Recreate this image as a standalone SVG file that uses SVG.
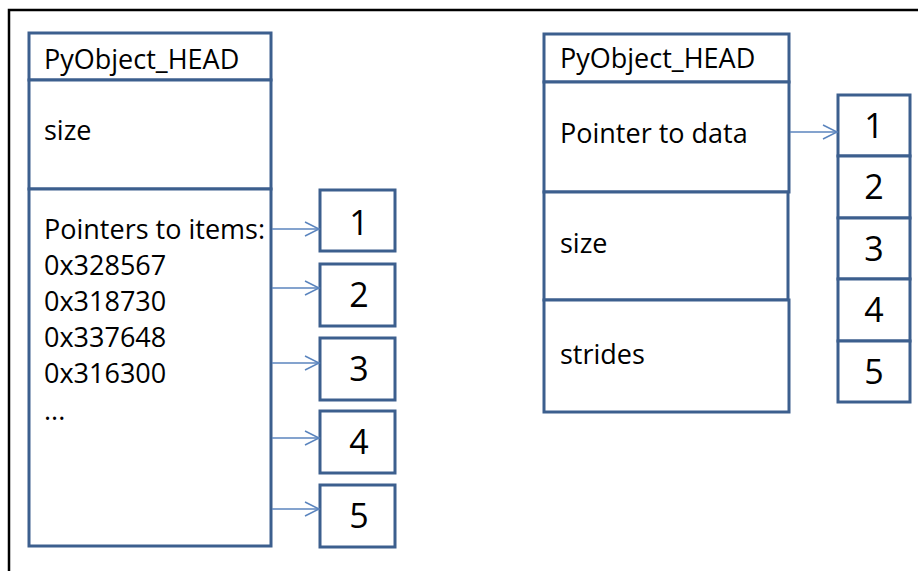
<svg xmlns="http://www.w3.org/2000/svg" width="918" height="571" viewBox="0 0 918 571">
<style>
.box{fill:#fff;stroke:#3c5f8e;stroke-width:3}
.t{font-family:"Open Sans","Liberation Sans",sans-serif;font-size:27px;fill:#000}
.n{font-family:"Open Sans","Liberation Sans",sans-serif;font-size:34px;fill:#000;text-anchor:middle}
.c{stroke:#5b85be;stroke-width:1.5;fill:none}
</style>
<defs>
<marker id="arr" markerWidth="18" markerHeight="18" refX="15" refY="8" orient="auto" markerUnits="userSpaceOnUse">
<path d="M1,1 L15,8 L1,15" fill="none" stroke="#5b85be" stroke-width="1.5"/>
</marker>
</defs>
<rect width="918" height="571" fill="#fff"/>
<path d="M9,571 V10 H918" fill="none" stroke="#000" stroke-width="2.5"/>
<g id="list-struct">
<rect class="box" x="29" y="33" width="242" height="47"/>
<rect class="box" x="29" y="80" width="242" height="109"/>
<rect class="box" x="29" y="189" width="242" height="357"/>
<text class="t" x="44" y="69">PyObject_HEAD</text>
<text class="t" x="44" y="140">size</text>
<text class="t" x="44" y="239">Pointers to items:</text>
<text class="t" x="44" y="275">0x328567</text>
<text class="t" x="44" y="311">0x318730</text>
<text class="t" x="44" y="347">0x337648</text>
<text class="t" x="44" y="383">0x316300</text>
<text class="t" x="44" y="420">...</text>
</g>
<g id="item1"><rect class="box" x="320" y="190" width="75" height="61"/><text class="n" x="359" y="235">1</text></g>
<g id="item2"><rect class="box" x="320" y="264" width="75" height="62"/><text class="n" x="359" y="307">2</text></g>
<g id="item3"><rect class="box" x="320" y="338" width="75" height="62"/><text class="n" x="359" y="381">3</text></g>
<g id="item4"><rect class="box" x="320" y="411" width="75" height="62"/><text class="n" x="359" y="454">4</text></g>
<g id="item5"><rect class="box" x="320" y="485" width="75" height="62"/><text class="n" x="359" y="528">5</text></g>
<g id="array-struct">
<rect class="box" x="544" y="34" width="245" height="48"/>
<rect class="box" x="544" y="82" width="245" height="110"/>
<rect class="box" x="544" y="192" width="244" height="108"/>
<rect class="box" x="544" y="300" width="245" height="112"/>
<text class="t" x="560" y="68">PyObject_HEAD</text>
<text class="t" x="560" y="143">Pointer to data</text>
<text class="t" x="560" y="253">size</text>
<text class="t" x="560" y="364">strides</text>
</g>
<g id="data">
<rect class="box" x="838" y="95" width="72" height="61"/><text class="n" x="874" y="138">1</text>
<rect class="box" x="838" y="156" width="72" height="62"/><text class="n" x="874" y="199">2</text>
<rect class="box" x="838" y="218" width="72" height="61"/><text class="n" x="874" y="261">3</text>
<rect class="box" x="838" y="279" width="72" height="62"/><text class="n" x="874" y="322">4</text>
<rect class="box" x="838" y="341" width="72" height="61"/><text class="n" x="874" y="384">5</text>
</g>
<g id="connectors">
<line class="c" x1="272" y1="229" x2="319" y2="229" marker-end="url(#arr)"/>
<line class="c" x1="272" y1="288" x2="319" y2="288" marker-end="url(#arr)"/>
<line class="c" x1="272" y1="363" x2="319" y2="363" marker-end="url(#arr)"/>
<line class="c" x1="272" y1="438" x2="319" y2="438" marker-end="url(#arr)"/>
<line class="c" x1="272" y1="509" x2="319" y2="509" marker-end="url(#arr)"/>
<line class="c" x1="790" y1="132" x2="837" y2="132" marker-end="url(#arr)"/>
</g>
</svg>
